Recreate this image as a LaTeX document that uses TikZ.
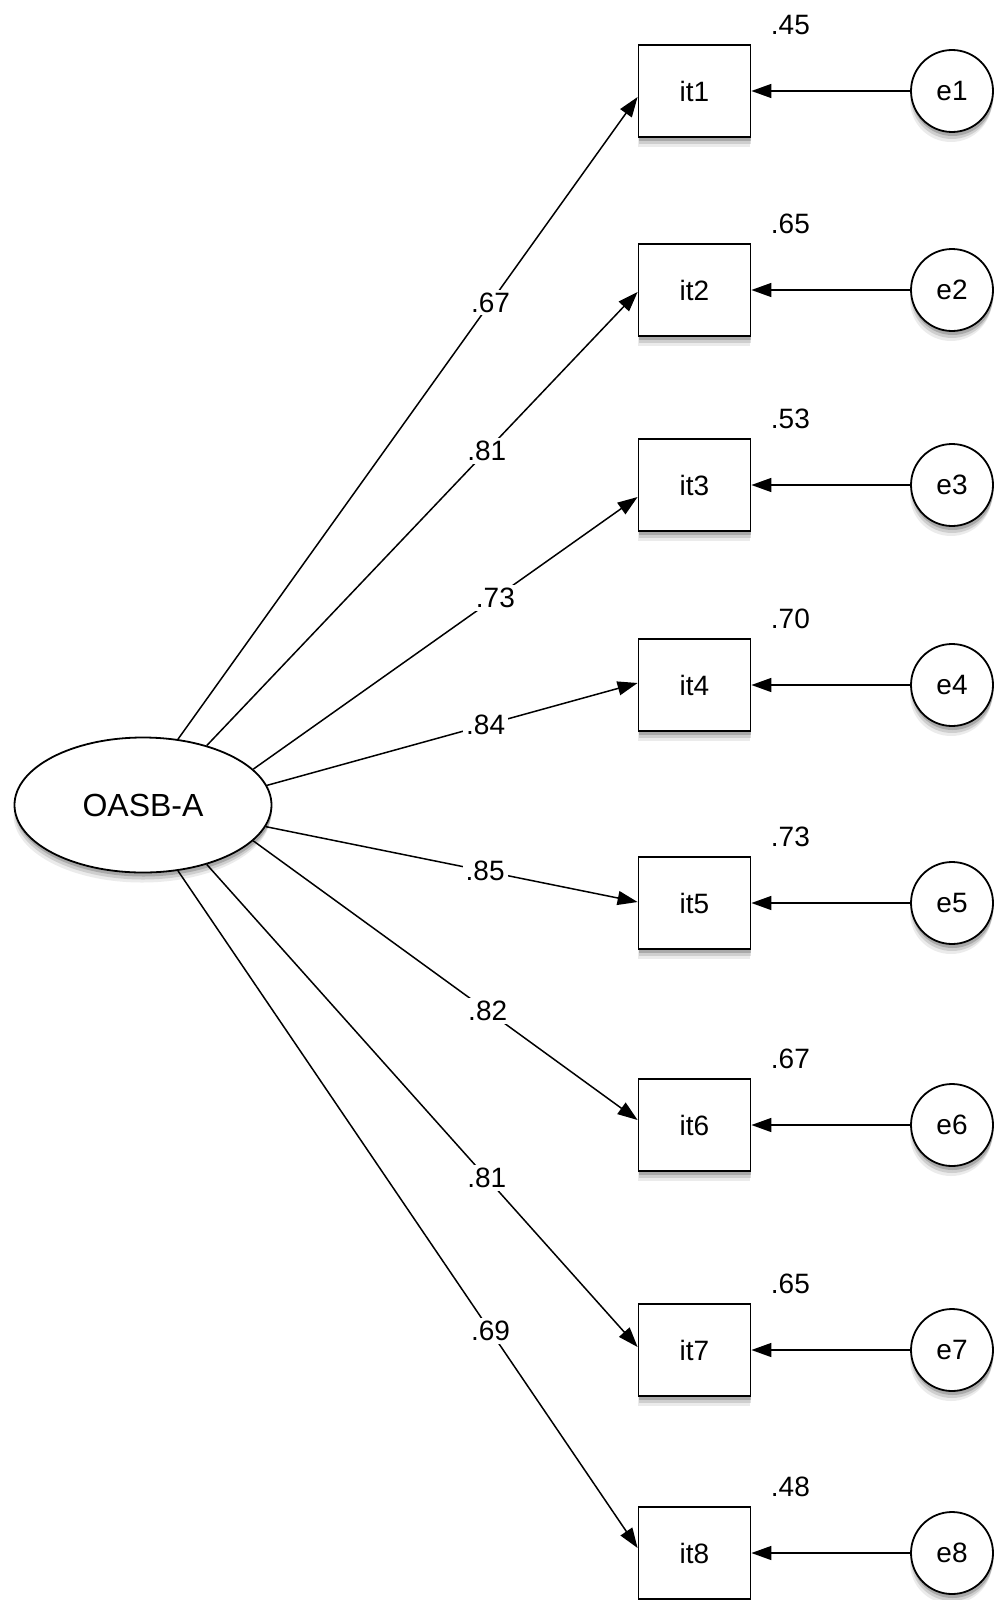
\documentclass[tikz,border=0pt]{standalone}
\usepackage{fontspec}
\setmainfont{Liberation Sans}
\usetikzlibrary{shapes.geometric,arrows.meta,shadows,calc}
\begin{document}
\begin{tikzpicture}[x=0.5pt,y=-0.5pt,
  font=\fontsize{14}{16}\selectfont,
  softshadow/.style={
    drop shadow={shadow xshift=-0.5pt,shadow yshift=-5pt,opacity=0.08,fill=black},
    drop shadow={shadow xshift=0pt,shadow yshift=-3.5pt,opacity=0.12,fill=black},
    drop shadow={shadow xshift=0.3pt,shadow yshift=-2pt,opacity=0.18,fill=black}},
  obsbox/.style={draw,line width=0.9pt,fill=white,minimum width=56pt,minimum height=46pt,inner sep=0pt,softshadow},
  errcirc/.style={draw,circle,line width=0.9pt,fill=white,minimum size=41pt,inner sep=0pt,softshadow},
  latent/.style={draw,ellipse,line width=0.9pt,fill=white,minimum width=128.5pt,minimum height=67.5pt,inner sep=0pt,softshadow,font=\fontsize{16}{18}\selectfont},
  loadarrow/.style={line width=0.75pt,-{Triangle[length=10pt,width=7pt]}},
  coefl/.style={fill=white,inner sep=1.5pt},
  rsql/.style={inner sep=0pt}
]
\useasboundingbox (0,0) rectangle (1000,1600);

\node[latent] (F) at (143,805) {OASB-A};

\foreach \i/\y/\r in {1/91/45,2/290/65,3/485/53,4/685/70,5/903/73,6/1125/67,7/1350/65,8/1553/48}{
  \node[obsbox] (it\i) at (694.5,\y) {it\i};
  \node[errcirc] (e\i) at (952,\y) {e\i};
  \node[rsql] (r\i) at ($(it\i.north east)+(39,-19)$) {.\r};
  \draw[loadarrow] (e\i) -- (it\i);
}

\draw[loadarrow] (F.62.8) -- node[coefl,pos=0.68]{.67} ($(it1.west)+(0,6)$);
\draw[loadarrow] (F.43.6) -- node[coefl,pos=0.65]{.81} ($(it2.west)+(0,2)$);
\draw[loadarrow] (F.18.1) -- node[coefl,pos=0.63]{.73} ($(it3.west)+(0,12)$);
\draw[loadarrow] (F.9.1) -- node[coefl,pos=0.59]{.84} ($(it4.west)+(0,-2)$);
\draw[loadarrow] (F.-10) -- node[coefl,pos=0.59]{.85} ($(it5.west)+(0,-1)$);
\draw[loadarrow] (F.-18.4) -- node[coefl,pos=0.61]{.82} ($(it6.west)+(0,-5)$);
\draw[loadarrow] (F.-43.6) -- node[coefl,pos=0.65]{.81} ($(it7.west)+(0,-3)$);
\draw[loadarrow] (F.-62.4) -- node[coefl,pos=0.68]{.69} ($(it8.west)+(0,-5)$);
\end{tikzpicture}
\end{document}
